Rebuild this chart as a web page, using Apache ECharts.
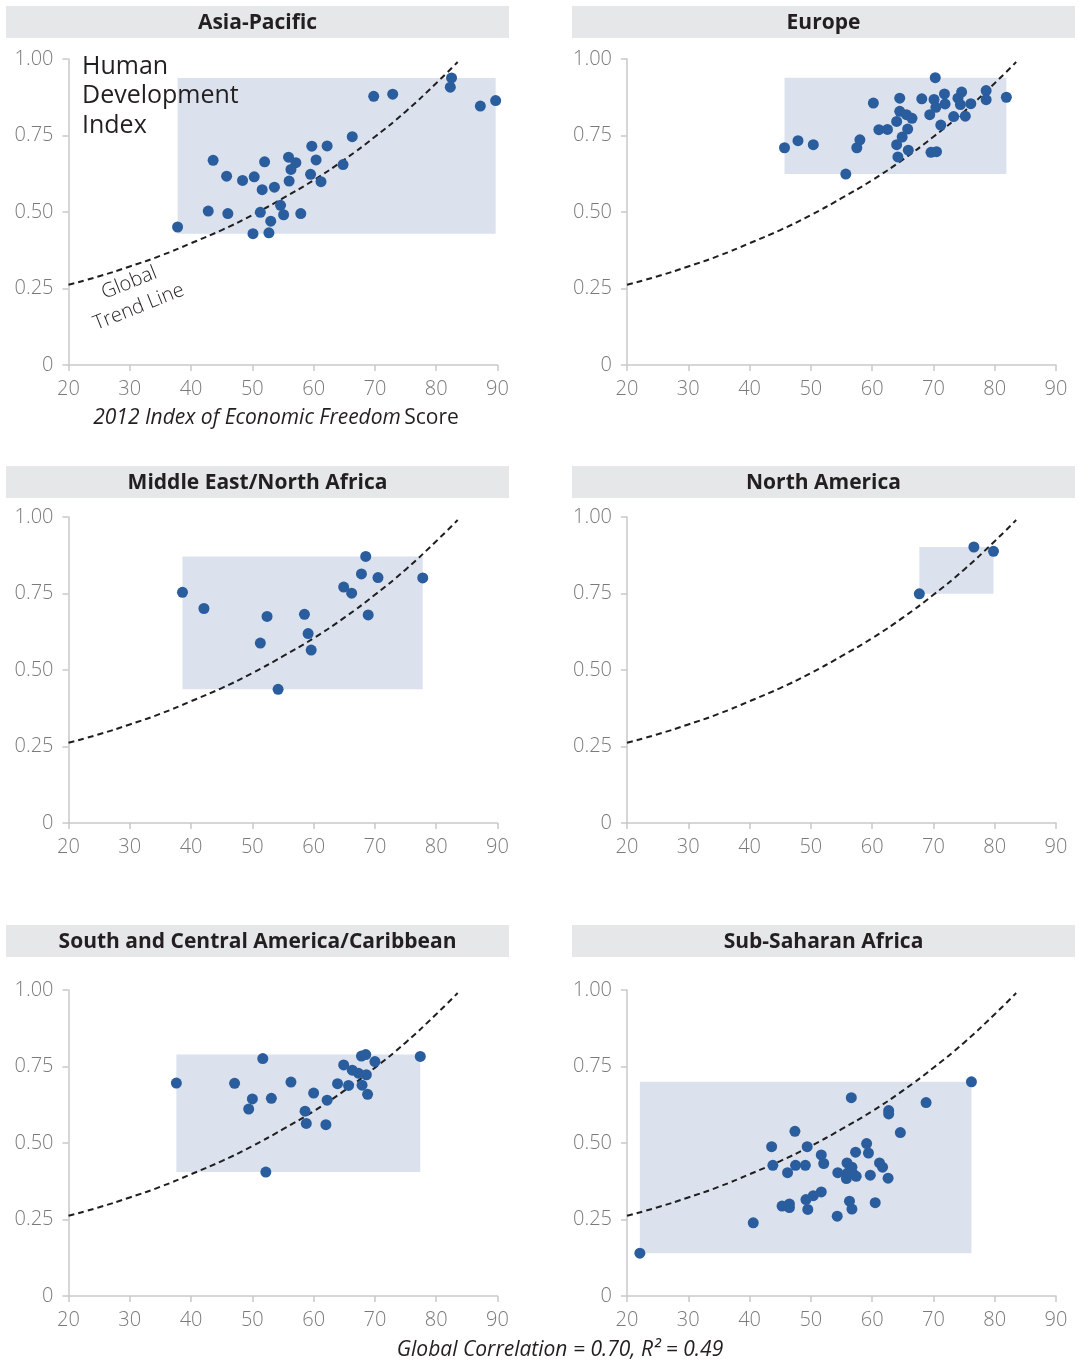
<!DOCTYPE html>
<html>
<head>
<meta charset="utf-8">
<script src="https://cdn.jsdelivr.net/npm/echarts@6/dist/echarts.min.js"></script>
<style>
html,body{margin:0;padding:0;background:#fff;}
#chart{width:1079px;height:1362px;}
</style>
</head>
<body>
<div id="chart"></div>
<script>
// ---- Data ----
const regions = ['Asia-Pacific', 'Europe', 'Middle East/North Africa', 'North America',
  'South and Central America/Caribbean', 'Sub-Saharan Africa'];

const xTicks = [20, 30, 40, 50, 60, 70, 80, 90];
const yTickLabels = ['0', '0.25', '0.50', '0.75', '1.00'];

// Global trend line: [economic freedom, HDI]
const trendLine = [[20, 0.262], [25, 0.290], [30, 0.322], [35, 0.357], [40, 0.398], [45, 0.441],
  [50, 0.490], [55, 0.545], [60, 0.604], [65, 0.671], [70, 0.746], [75, 0.828], [80, 0.921], [83.5, 0.99]];

const asiaPacific = [[37.8,0.451],[42.8,0.503],[43.6,0.669],[45.8,0.617],[46.0,0.495],[48.4,0.603],
  [50.3,0.615],[50.1,0.429],[51.3,0.499],[51.6,0.573],[52.0,0.664],[53.0,0.470],[52.7,0.432],
  [53.6,0.581],[54.6,0.522],[55.1,0.491],[55.9,0.679],[56.3,0.639],[56.0,0.601],[57.1,0.661],
  [57.9,0.495],[59.5,0.623],[59.7,0.715],[60.4,0.670],[61.2,0.599],[62.2,0.716],[64.8,0.655],
  [66.3,0.746],[69.8,0.878],[72.9,0.885],[82.3,0.908],[82.5,0.938],[87.2,0.846],[89.7,0.864]];

const europe = [[45.7,0.710],[47.9,0.733],[50.4,0.720],[55.7,0.624],[57.5,0.710],[58.0,0.736],
  [60.2,0.856],[61.1,0.769],[62.5,0.770],[64.0,0.720],[64.0,0.796],[64.2,0.680],[64.5,0.872],
  [64.5,0.829],[64.9,0.745],[65.6,0.818],[65.8,0.771],[65.9,0.702],[66.5,0.806],[68.1,0.870],
  [69.4,0.818],[69.6,0.695],[70.3,0.939],[70.1,0.868],[70.5,0.697],[70.4,0.842],[71.2,0.784],
  [71.8,0.886],[71.9,0.853],[73.3,0.812],[74.0,0.872],[74.6,0.892],[74.4,0.851],[75.2,0.813],
  [76.1,0.854],[78.6,0.897],[78.6,0.867],[81.9,0.875]];

const middleEast = [[38.6,0.754],[42.1,0.701],[51.3,0.588],[52.4,0.675],[54.2,0.437],[58.5,0.682],
  [59.1,0.619],[59.6,0.565],[64.9,0.771],[66.2,0.751],[67.8,0.814],[68.5,0.871],[68.9,0.680],
  [70.5,0.802],[77.8,0.801]];

const northAmerica = [[67.7,0.749],[76.6,0.902],[79.8,0.888]];

const southAmerica = [[37.6,0.696],[47.1,0.695],[49.4,0.611],[50.0,0.644],[51.7,0.776],[52.2,0.405],
  [53.1,0.646],[56.3,0.699],[58.6,0.604],[58.8,0.564],[60.0,0.663],[62.0,0.560],[62.2,0.640],
  [63.9,0.694],[64.9,0.755],[65.7,0.688],[66.3,0.738],[67.3,0.728],[67.8,0.784],[67.9,0.689],
  [68.5,0.789],[68.6,0.723],[68.8,0.659],[70.0,0.766],[77.4,0.783]];

const subSaharan = [[22.1,0.140],[40.6,0.239],[43.6,0.488],[43.8,0.427],[45.3,0.294],[46.2,0.403],
  [46.5,0.301],[46.5,0.289],[47.4,0.538],[47.5,0.427],[49.1,0.427],[49.2,0.315],[49.4,0.488],
  [49.5,0.283],[50.4,0.328],[51.7,0.461],[51.7,0.340],[52.1,0.433],[54.3,0.261],[54.4,0.403],
  [55.8,0.384],[55.9,0.435],[56.0,0.402],[56.3,0.310],[56.6,0.648],[56.7,0.421],[56.7,0.284],
  [56.9,0.399],[57.3,0.470],[57.4,0.391],[59.1,0.498],[59.4,0.467],[59.7,0.395],[60.5,0.305],
  [61.2,0.435],[61.7,0.421],[62.7,0.606],[62.7,0.595],[62.6,0.385],[64.6,0.534],[68.8,0.632],
  [76.2,0.700]];

const panelData = [asiaPacific, europe, middleEast, northAmerica, southAmerica, subSaharan];

// ---- Layout / style ----
const colLeft = [68.5, 627];
const gridW = 429;
const rowTop = [59, 517, 990];
const gridH = 306;
const barLeft = [6, 572];
const barW = 503;
const barTop = [6, 466, 925];
const barH = 32;

const FONT = '"Open Sans", "DejaVu Sans", sans-serif';
const axisColor = '#c9c9c9';
const labelColor = '#7a7a7a';
const dotColor = '#2a5d9d';
const boxColor = '#dce1ee';

const grids = [], xAxes = [], yAxes = [], series = [], graphics = [];

panelData.forEach((pts, i) => {
  const col = i % 2, row = Math.floor(i / 2);
  grids.push({left: colLeft[col], top: rowTop[row], width: gridW, height: gridH});
  xAxes.push({
    gridIndex: i, type: 'value', min: xTicks[0], max: xTicks[xTicks.length - 1], interval: 10,
    axisLine: {show: true, lineStyle: {color: axisColor, width: 1.5}},
    axisTick: {show: true, length: 6, lineStyle: {color: axisColor, width: 1.5}},
    axisLabel: {color: labelColor, fontSize: 20, fontFamily: FONT, fontWeight: 300, margin: 14},
    splitLine: {show: false}
  });
  yAxes.push({
    gridIndex: i, type: 'value', min: 0, max: 1, interval: 0.25,
    axisLine: {show: true, lineStyle: {color: axisColor, width: 1.5}},
    axisTick: {show: true, length: 6, lineStyle: {color: axisColor, width: 1.5}},
    axisLabel: {color: labelColor, fontSize: 20, fontFamily: FONT, fontWeight: 300, margin: 15,
      formatter: (v, idx) => yTickLabels[idx]},
    splitLine: {show: false}
  });
  const xs = pts.map(p => p[0]), ys = pts.map(p => p[1]);
  const minX = Math.min(...xs), maxX = Math.max(...xs), minY = Math.min(...ys), maxY = Math.max(...ys);
  // range box
  series.push({
    type: 'scatter', xAxisIndex: i, yAxisIndex: i, data: [], z: 1, silent: true,
    markArea: {silent: true, itemStyle: {color: boxColor, opacity: 1},
      data: [[{coord: [minX, maxY]}, {coord: [maxX, minY]}]]}
  });
  // global trend line
  series.push({
    type: 'line', xAxisIndex: i, yAxisIndex: i, data: trendLine, smooth: true, symbol: 'none', z: 2,
    lineStyle: {color: '#1f1f1f', width: 2, type: [6, 4]}, silent: true
  });
  // countries
  series.push({
    type: 'scatter', xAxisIndex: i, yAxisIndex: i, data: pts, symbolSize: 11, z: 3,
    itemStyle: {color: dotColor, opacity: 1}, silent: true
  });
  // title bar
  graphics.push({type: 'rect', shape: {x: barLeft[col], y: barTop[row], width: barW, height: barH},
    style: {fill: '#e6e7e9'}, z: 0});
  graphics.push({type: 'text', x: barLeft[col] + barW / 2, y: barTop[row] + barH / 2 + 1, z: 1,
    style: {text: regions[i], fill: '#231f20', font: 'bold 21px ' + FONT, align: 'center', verticalAlign: 'middle'}});
});

graphics.push({type: 'text', x: 82, y: 52, z: 5,
  style: {text: 'Human\nDevelopment\nIndex', fill: '#231f20', font: '25px ' + FONT, lineHeight: 29.5, align: 'left', verticalAlign: 'top'}});
graphics.push({type: 'text', x: 134, y: 295, rotation: 0.38, z: 5,
  style: {text: 'Global\nTrend Line', fill: '#231f20', font: '300 20px ' + FONT, lineHeight: 26, align: 'center', verticalAlign: 'middle'}});
graphics.push({type: 'text', x: 276, y: 418, z: 5,
  style: {text: '{i|2012 Index of Economic Freedom} {n|Score}', align: 'center', verticalAlign: 'middle',
    rich: {i: {fontFamily: FONT, fontSize: 21, fontStyle: 'italic', fill: '#231f20', fontWeight: 400},
           n: {fontFamily: FONT, fontSize: 21, fill: '#231f20', fontWeight: 400}}}});
graphics.push({type: 'text', x: 560, y: 1350, z: 5,
  style: {text: 'Global Correlation = 0.70, R² = 0.49', fill: '#231f20', font: 'italic 400 21px ' + FONT, align: 'center', verticalAlign: 'middle'}});

const chart = echarts.init(document.getElementById('chart'), null, {renderer: 'canvas'});
chart.setOption({
  animation: false,
  backgroundColor: '#fff',
  grid: grids, xAxis: xAxes, yAxis: yAxes, series: series, graphic: graphics
});
</script>
</body>
</html>
